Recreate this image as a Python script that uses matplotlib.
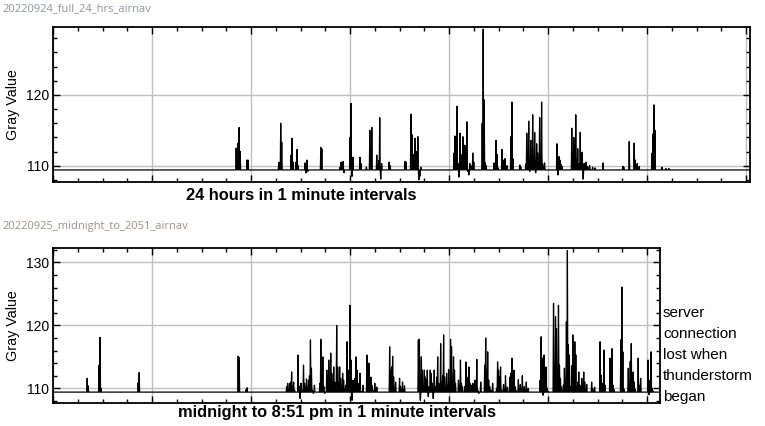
import numpy as np
import matplotlib.pyplot as plt
from matplotlib.ticker import MultipleLocator

plt.rcParams['font.family'] = ['Liberation Sans', 'DejaVu Sans']

# flat level of the profile and spikes (minute: gray value)
baseline = 109.4

top_title = "20220924_full_24_hrs_airnav"
top_xlabel = "24 hours in 1 minute intervals"
top_len = 1408
top_min = [370, 372, 374, 376, 378, 392, 394,
           456, 458, 460, 462, 481, 483, 485, 491, 493, 495,
           509, 511, 513, 515, 541, 543, 580, 582, 584, 586, 588,
           600, 602, 604, 606, 620, 622, 633, 640, 642, 644,
           654, 656, 658, 660, 662, 664, 679, 681, 711, 713,
           723, 725, 729, 731, 733, 735, 737, 739, 741, 743,
           810, 812, 814, 816, 818, 820, 822, 824, 826, 828, 830, 832,
           834, 836, 838, 840, 842, 844, 848, 850,
           867, 869, 871, 873, 875, 891, 895, 897, 899,
           907, 911, 913, 917, 925, 927, 929, 943, 945,
           955, 957, 959, 961, 963, 965, 967, 969, 971, 973, 975, 977,
           979, 981, 983, 985, 987, 989, 991, 993,
           1018, 1020, 1022, 1024, 1026, 1028,
           1048, 1050, 1052, 1054, 1056, 1058, 1060, 1062,
           1065, 1067, 1069, 1071, 1073, 1075, 1077, 1080, 1084, 1090, 1095,
           1111, 1151, 1153, 1164, 1174, 1176, 1180, 1184,
           1210, 1212, 1214, 1216, 1230, 1238, 1244]
top_val = [112.5, 111.0, 113.2, 115.4, 112.0, 110.8, 110.8,
           110.5, 110.4, 116.0, 113.3, 111.5, 113.9, 110.5, 110.5, 112.3, 110.0,
           110.4, 109.0, 110.8, 109.2, 112.6, 112.4, 109.8, 110.5, 109.9, 110.6, 109.0,
           114.0, 118.8, 108.5, 111.2, 111.2, 110.3, 109.8, 115.0, 111.0, 115.4,
           111.5, 109.9, 110.7, 116.8, 108.1, 110.3, 110.5, 110.0, 110.6, 110.5,
           117.3, 114.4, 111.6, 113.9, 111.8, 112.0, 114.1, 108.0, 108.5, 109.8,
           111.8, 114.2, 113.6, 118.4, 110.3, 108.4, 114.6, 111.6, 110.8, 114.1, 110.0, 112.9,
           112.7, 116.2, 109.2, 108.7, 110.3, 110.0, 111.8, 110.5,
           116.0, 129.3, 119.3, 110.4, 110.0, 110.4, 113.6, 111.6, 109.7,
           112.3, 110.8, 111.0, 110.0, 114.1, 119.0, 111.0, 110.1, 109.8,
           110.2, 114.6, 111.6, 116.3, 109.2, 113.6, 111.3, 117.2, 110.8, 114.7, 109.0, 113.1,
           111.8, 110.5, 116.8, 110.3, 119.0, 110.3, 109.9, 110.4,
           113.1, 108.7, 111.3, 110.8, 110.2, 109.9,
           115.3, 112.0, 114.0, 111.8, 117.2, 110.8, 112.4, 110.3,
           114.7, 111.3, 111.9, 108.1, 110.3, 109.9, 110.5, 109.9, 110.0, 109.8, 109.7,
           110.4, 109.9, 109.8, 113.4, 113.2, 110.8, 110.3, 109.9,
           111.8, 114.5, 118.6, 115.0, 109.8, 109.6, 109.6]

bot_title = "20220925_midnight_to_2051_airnav"
bot_xlabel = "midnight to 8:51 pm in 1 minute intervals"
bot_note = "server\nconnection\nlost when\nthunderstorm\nbegan"
bot_len = 1226
bot_min = [69, 71, 93, 95, 97, 172, 174, 374, 376, 390, 392,
           472, 474, 476, 478, 480, 482, 484, 486, 488,
           495, 497, 499, 501, 503, 506, 508, 510, 512,
           516, 518, 520, 522, 524, 526, 528, 539, 541, 543, 545, 547, 549,
           553, 555, 557, 559, 561, 563, 565, 567, 569, 573, 575, 577,
           579, 581, 583, 585, 587, 589, 591, 594, 596, 598, 600, 602, 604, 606,
           610, 612, 614, 616, 618, 620, 622, 626,
           634, 636, 638, 640, 642, 644, 646, 650, 654,
           680, 682, 684, 686, 688, 690, 692, 700, 702, 704, 706, 710,
           738, 740, 742, 744, 746, 748, 750, 752, 754, 756, 758, 760,
           762, 764, 766, 768, 770, 772, 775, 777, 779, 781, 783, 785,
           787, 789, 791, 793, 795, 797, 799, 801, 803, 805, 807, 809, 811, 813,
           819, 821, 823, 825, 827, 832, 834, 836, 838, 840, 842, 846, 848,
           852, 854, 856, 858, 860, 864, 872, 874, 876, 878, 880, 882, 884, 888,
           896, 898, 900, 902, 904, 906, 910, 914, 918,
           923, 925, 927, 929, 931, 933, 935, 940, 944, 948, 952, 956, 960,
           984, 986, 988, 990, 992, 994, 996, 998, 1000,
           1011, 1013, 1015, 1017, 1019, 1021, 1023, 1025, 1027,
           1031, 1033, 1035, 1037, 1039, 1041, 1043, 1045,
           1048, 1050, 1052, 1054, 1056, 1058, 1060, 1062, 1064, 1066,
           1068, 1070, 1072, 1074, 1076, 1078, 1088, 1090, 1094,
           1105, 1107, 1109, 1111, 1113, 1115, 1125, 1127, 1129, 1131, 1133,
           1147, 1149, 1151, 1153, 1162, 1164, 1166, 1168, 1170, 1172, 1174, 1176,
           1182, 1184, 1187, 1202, 1204, 1206, 1208, 1210, 1212]
bot_val = [111.6, 110.4, 113.7, 118.1, 110.0, 110.9, 112.5, 115.1, 114.9, 109.8, 110.1,
           110.3, 110.8, 109.7, 110.8, 111.0, 112.6, 110.3, 111.0, 109.7,
           115.3, 110.3, 108.4, 110.8, 109.7, 113.7, 110.8, 110.3, 111.5,
           111.3, 112.0, 117.7, 113.2, 109.7, 109.2, 110.5, 110.8, 117.8, 111.3, 115.0, 110.3, 109.2,
           112.9, 110.5, 114.5, 111.2, 115.6, 112.4, 110.8, 113.4, 111.0, 120.0, 113.4, 110.8,
           113.4, 111.6, 110.3, 112.4, 111.3, 109.7, 110.5, 117.4, 112.9, 110.5, 123.2, 114.5, 108.1, 111.3,
           111.6, 115.0, 112.9, 109.7, 110.8, 112.4, 109.5, 110.5,
           115.3, 113.2, 114.0, 111.3, 111.8, 110.5, 109.7, 110.8, 110.2,
           116.6, 112.9, 113.4, 115.1, 111.8, 109.7, 111.0, 111.6, 110.3, 109.7, 111.0, 110.4,
           117.7, 117.8, 108.1, 115.0, 112.9, 109.7, 112.9, 111.8, 111.3, 112.9, 108.7, 110.3,
           112.9, 112.4, 110.8, 108.4, 112.9, 110.3, 111.8, 115.0, 110.8, 109.7, 117.1, 110.8,
           112.0, 118.5, 111.8, 109.5, 112.4, 110.3, 113.0, 110.8, 117.8, 116.6, 110.3, 115.0, 112.9, 110.8,
           111.3, 109.7, 114.5, 110.8, 110.3, 110.3, 114.2, 111.8, 109.7, 113.4, 110.8, 110.5, 110.8,
           111.3, 110.3, 114.6, 109.7, 109.2, 111.0, 113.7, 118.0, 112.9, 115.8, 111.3, 110.3, 109.7, 110.8,
           110.0, 114.2, 112.9, 111.8, 113.4, 109.7, 110.6, 112.0, 110.2,
           111.8, 112.4, 114.8, 110.8, 112.9, 110.3, 109.7, 111.4, 110.6, 112.0, 110.3, 111.0, 110.0,
           111.3, 118.2, 114.8, 108.9, 115.3, 112.1, 113.4, 110.0, 109.5,
           123.5, 110.5, 121.4, 119.5, 112.0, 123.2, 113.7, 111.6, 110.2,
           110.5, 113.2, 109.8, 120.6, 131.9, 116.9, 115.3, 110.3,
           113.6, 118.5, 110.5, 117.4, 115.3, 109.5, 111.0, 112.6, 110.5, 109.8,
           111.6, 110.0, 112.6, 111.0, 109.8, 110.6, 111.0, 110.0, 110.2,
           117.4, 112.1, 109.8, 110.8, 116.1, 110.5, 114.8, 110.5, 116.3, 110.5, 109.8,
           117.7, 126.1, 115.8, 109.9, 113.2, 109.9, 114.3, 117.1, 110.2, 112.6, 111.0, 109.8,
           114.8, 110.5, 111.6, 114.5, 109.0, 111.3, 115.8, 110.0, 109.6]


def profile(n, mins, vals):
    y = np.full(n + 1, baseline)
    y[np.array(mins)] = vals
    return np.arange(n + 1), y


def style(ax, xmax, ymin, ymax):
    ax.set_xlim(0, xmax)
    ax.set_ylim(ymin, ymax)
    ax.xaxis.set_major_locator(MultipleLocator(200))
    ax.xaxis.set_minor_locator(MultipleLocator(50))
    ax.yaxis.set_major_locator(MultipleLocator(10))
    ax.yaxis.set_minor_locator(MultipleLocator(2))
    ax.grid(True, which='major', color='#c0c0c0', lw=1.0)
    ax.set_axisbelow(True)
    ax.tick_params(which='both', direction='in', top=True, right=True,
                   labelbottom=False, labelsize=10, pad=3, color='black')
    ax.tick_params(which='major', length=5, width=1)
    ax.tick_params(which='minor', length=3, width=1)
    for s in ax.spines.values():
        s.set_linewidth(1.3)
    ax.set_ylabel("Gray Value", fontsize=10.3)


fig = plt.figure(figsize=(7.65, 4.26), dpi=100)

ax1 = fig.add_axes([0.0693, 0.5728, 0.9111, 0.3638])
x, y = profile(top_len, top_min, top_val)
ax1.plot(x, y, color='black', lw=0.9)
style(ax1, top_len, 107.7, 129.6)
ax1.yaxis.set_label_coords(-33 / 697, 0.5)

ax2 = fig.add_axes([0.0693, 0.054, 0.7934, 0.3638])
x, y = profile(bot_len, bot_min, bot_val)
ax2.plot(x, y, color='black', lw=0.9)
style(ax2, bot_len, 107.67, 132.3)
ax2.yaxis.set_label_coords(-33 / 607, 0.5)

fig.text(2 / 765, 1 - 9 / 426, top_title, fontsize=8, color='#8a96a4',
         family=['Open Sans', 'DejaVu Sans'], va='center', ha='left')
fig.text(2 / 765, 1 - 226 / 426, bot_title, fontsize=8, color='#a09088',
         family=['Open Sans', 'DejaVu Sans'], va='center', ha='left')

fig.text(301 / 765, 1 - 195 / 426, top_xlabel, fontsize=11.8, fontweight='bold',
         ha='center', va='center')
fig.text(337 / 765, 1 - 413 / 426, bot_xlabel, fontsize=11.8, fontweight='bold',
         ha='center', va='center')

fig.text(663 / 765, 1 - 355 / 426, bot_note, fontsize=11, ha='left',
         va='center', linespacing=1.63)

fig.savefig('out.png', dpi=100)
